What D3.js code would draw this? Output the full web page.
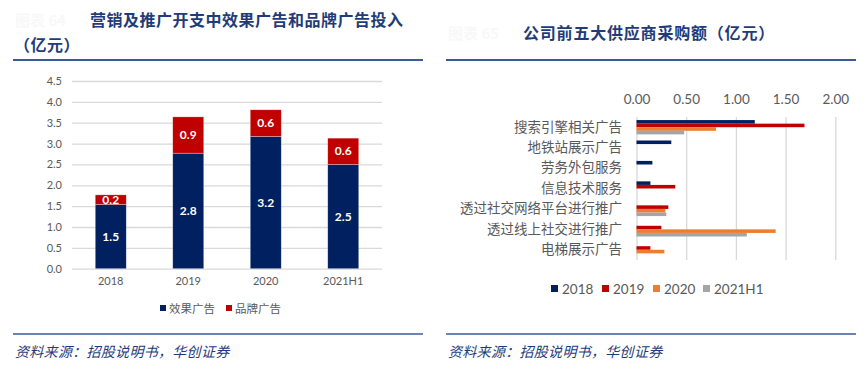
<!DOCTYPE html>
<html>
<head>
<meta charset="utf-8">
<script src="https://cdn.jsdelivr.net/npm/d3@7"></script>
<style>
  body { margin: 0; background: #fff; }
  text { font-family: "Noto Sans CJK SC", sans-serif; }
  .num { font-family: Lato, "Liberation Sans", sans-serif; }
</style>
</head>
<body>
<div id="chart-area"></div>
<script>
// left chart data
let years = ["2018", "2019", "2020", "2021H1"];
let effectAds = [1.54, 2.77, 3.17, 2.50];
let brandAds = [0.23, 0.87, 0.64, 0.63];
let yTicks = [0, 0.5, 1, 1.5, 2, 2.5, 3, 3.5, 4, 4.5];

// right chart data
let suppliers = ["搜索引擎相关广告", "地铁站展示广告", "劳务外包服务", "信息技术服务",
	"透过社交网络平台进行推广", "透过线上社交进行推广", "电梯展示广告"];
let periods = ["2018", "2019", "2020", "2021H1"];
let s2018 = [1.19, 0.35, 0.16, 0.14, 0, 0, 0];
let s2019 = [1.69, 0, 0, 0.39, 0.32, 0.25, 0.14];
let s2020 = [0.80, 0, 0, 0, 0.29, 1.40, 0.28];
let s2021 = [0.48, 0, 0, 0, 0.30, 1.11, 0];
let xTicks = [0, 0.5, 1, 1.5, 2];

let navy = "#002060", red = "#c00000", orange = "#ed7d31", grey = "#a5a5a5";
let titleColor = "#1f3c78", ruleColor = "#3b5b97", labelColor = "#595959";

let svg = d3.select("#chart-area").append("svg")
	.attr("width", 866)
	.attr("height", 372);

// ---------- headers / footers ----------
function frame(x0, x1) {
	svg.append("line").attr("x1", x0).attr("x2", x1).attr("y1", 60).attr("y2", 60)
		.attr("stroke", ruleColor).attr("stroke-width", 2);
	svg.append("line").attr("x1", x0).attr("x2", x1).attr("y1", 334).attr("y2", 334)
		.attr("stroke", ruleColor).attr("stroke-width", 1.5);
	svg.append("text")
		.attr("x", x0 + 2).attr("y", 357)
		.attr("font-size", "14px")
		.attr("font-style", "italic")
		.attr("fill", titleColor)
		.attr("letter-spacing", "0.3px")
		.text("资料来源：招股说明书，华创证券");
}
frame(13, 423);
frame(446, 856);

svg.append("text").attr("x", 15).attr("y", 26).attr("font-size", "15px")
	.attr("fill", "#f8f8f8").attr("font-weight", "bold").text("图表 64");
svg.append("text").attr("x", 448).attr("y", 39).attr("font-size", "15px")
	.attr("fill", "#f8f8f8").attr("font-weight", "bold").text("图表 65");

svg.append("text").attr("x", 90).attr("y", 26)
	.attr("font-size", "16px").attr("font-weight", "bold").attr("letter-spacing", "0.5px")
	.attr("fill", titleColor).text("营销及推广开支中效果广告和品牌广告投入");
svg.append("text").attr("x", 14).attr("y", 51)
	.attr("font-size", "16px").attr("font-weight", "bold").attr("letter-spacing", "0.5px")
	.attr("fill", titleColor).text("（亿元）");
svg.append("text").attr("x", 523).attr("y", 39)
	.attr("font-size", "16px").attr("font-weight", "bold").attr("letter-spacing", "0.8px")
	.attr("fill", titleColor).text("公司前五大供应商采购额（亿元）");

// ---------- left: stacked bars ----------
let x = d3.scaleBand()
	.domain(years)
	.range([72, 382])
	.paddingInner(0.6)
	.paddingOuter(0.3);

let y = d3.scaleLinear()
	.domain([0, 4.5])
	.range([268.7, 81]);

let gridL = svg.append("g")
	.attr("transform", "translate(72,0)")
	.call(d3.axisLeft(y).tickValues(yTicks).tickFormat(d3.format(".1f"))
		.tickSize(-310).tickPadding(10));
gridL.select(".domain").remove();
gridL.selectAll(".tick line").attr("stroke", "#d9d9d9").attr("stroke-width", 1.3);
gridL.selectAll(".tick text").attr("class", "num")
	.attr("font-size", "11px").attr("fill", labelColor);

let axisX = svg.append("g")
	.attr("transform", "translate(0,268.7)")
	.call(d3.axisBottom(x).tickSize(0).tickPadding(9));
axisX.select(".domain").remove();
axisX.selectAll(".tick text").attr("class", "num")
	.attr("font-size", "11px").attr("fill", labelColor);

let stackRows = years.map((yr, i) => ({ year: yr, effect: effectAds[i], brand: brandAds[i] }));
let series = d3.stack().keys(["effect", "brand"])(stackRows);
let fills = { effect: navy, brand: red };

series.forEach((s) => {
	svg.append("g").selectAll("rect").data(s).enter()
		.append("rect")
		.attr("x", (d) => x(d.data.year))
		.attr("y", (d) => y(d[1]))
		.attr("width", x.bandwidth())
		.attr("height", (d) => y(d[0]) - y(d[1]))
		.attr("fill", fills[s.key])
		.attr("stroke", "#ffffff")
		.attr("stroke-opacity", 0.5)
		.attr("stroke-width", 0.6);

	svg.append("g").selectAll("text").data(s).enter()
		.append("text")
		.attr("class", "num")
		.attr("x", (d) => x(d.data.year) + x.bandwidth() / 2)
		.attr("y", (d) => (y(d[0]) + y(d[1])) / 2)
		.attr("dy", "0.35em")
		.attr("text-anchor", "middle")
		.attr("font-size", "12px")
		.attr("font-weight", "bold")
		.attr("fill", "#fff")
		.text((d) => d3.format(".1f")(d[1] - d[0]));
});

// left legend
let legL = [["效果广告", navy, 160], ["品牌广告", red, 226]];
legL.forEach((l) => {
	svg.append("rect").attr("x", l[2]).attr("y", 305).attr("width", 6).attr("height", 6).attr("fill", l[1]);
	svg.append("text").attr("x", l[2] + 9).attr("y", 312.5)
		.attr("font-size", "11.5px").attr("fill", labelColor).text(l[0]);
});

// ---------- right: grouped horizontal bars ----------
let xs = d3.scaleLinear()
	.domain([0, 2])
	.range([636.5, 835.3]);

let yc = d3.scaleBand()
	.domain(suppliers)
	.range([117, 260])
	.paddingInner(0.3)
	.paddingOuter(0.15);

let yp = d3.scaleBand()
	.domain(periods)
	.range([0, yc.bandwidth()]);

let gridR = svg.append("g")
	.attr("transform", "translate(0,117)")
	.call(d3.axisTop(xs).tickValues(xTicks).tickFormat(d3.format(".2f"))
		.tickSize(-143).tickPadding(13));
gridR.select(".domain").remove();
gridR.selectAll(".tick line").attr("stroke", "#d9d9d9").attr("stroke-width", 1.3);
gridR.selectAll(".tick text").attr("class", "num")
	.attr("font-size", "13.5px").attr("fill", labelColor);

let catAxis = svg.append("g")
	.attr("transform", "translate(622,0)")
	.call(d3.axisLeft(yc).tickSize(0).tickPadding(0));
catAxis.select(".domain").remove();
catAxis.selectAll(".tick text")
	.attr("font-size", "13.5px").attr("fill", labelColor)
	.attr("font-family", "'Noto Sans CJK SC', sans-serif");

let seriesR = [s2018, s2019, s2020, s2021];
let colorsR = [navy, red, orange, grey];

seriesR.forEach((vals, j) => {
	let rows = suppliers.map((c, i) => ({ cat: c, v: vals[i] })).filter((d) => d.v > 0);
	svg.append("g").selectAll("rect").data(rows).enter()
		.append("rect")
		.attr("x", xs(0))
		.attr("y", (d) => yc(d.cat) + yp(periods[j]))
		.attr("width", (d) => xs(d.v) - xs(0))
		.attr("height", yp.bandwidth())
		.attr("fill", colorsR[j]);
});

// right legend
let legX = [551, 602, 653, 703];
periods.forEach((p, j) => {
	svg.append("rect").attr("x", legX[j]).attr("y", 285).attr("width", 7).attr("height", 7).attr("fill", colorsR[j]);
	svg.append("text").attr("class", "num").attr("x", legX[j] + 11).attr("y", 293.5)
		.attr("font-size", "13.5px").attr("fill", labelColor).text(p);
});
</script>
</body>
</html>
